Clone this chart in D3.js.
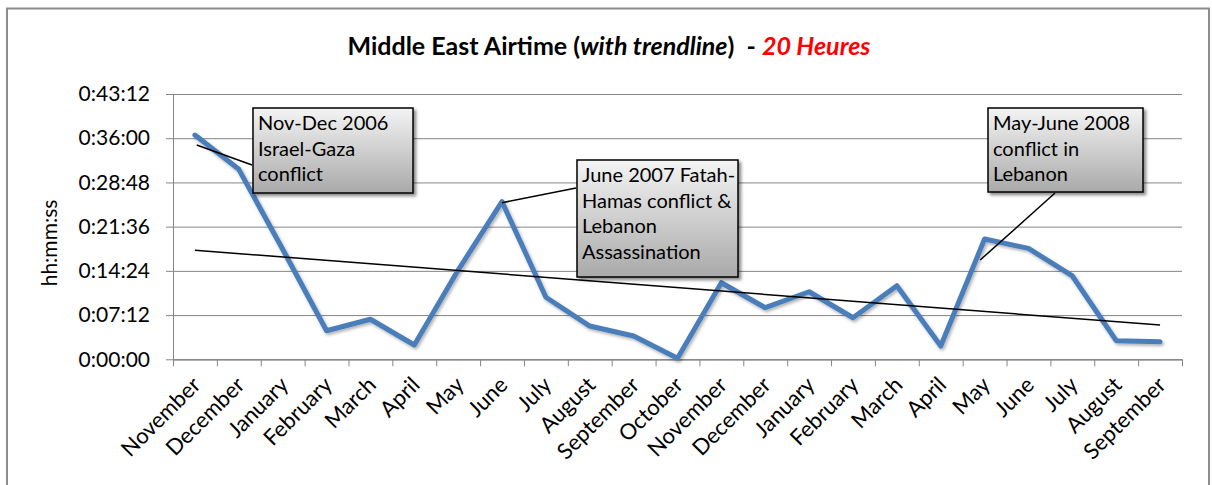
<!DOCTYPE html>
<html>
<head>
<meta charset="utf-8">
<script src="https://cdn.jsdelivr.net/npm/d3@7"></script>
<style>
  html, body { margin: 0; padding: 0; background: #fff; }
  svg { display: block; font-family: Lato, "Open Sans", sans-serif; }
</style>
</head>
<body>
<svg id="chart" width="1212" height="485"></svg>
<script>
// ---- data ----
const months = ["November","December","January","February","March","April","May","June",
  "July","August","September","October","November","December","January","February",
  "March","April","May","June","July","August","September"];
// airtime in seconds per month (Nov 2006 – Sep 2008)
const airtimeSeconds = [2191,1856,1075,279,391,140,872,1540,606,325,228,10,
  748,504,660,406,719,130,1175,1084,814,182,172];
const yTickSeconds = [0,432,864,1296,1728,2160,2592];
const titleParts = [
  {text: "Middle East Airtime (", italic: false, red: false},
  {text: "with trendline", italic: true, red: false},
  {text: ")  - ", italic: false, red: false},
  {text: "20 Heures", italic: true, red: true}
];
const yAxisTitle = "hh:mm:ss";
// annotations: anchor at (category index, seconds)
const noteLines = [
  ["Nov-Dec 2006","Israel-Gaza","conflict"],
  ["June 2007 Fatah-","Hamas conflict &","Lebanon","Assassination"],
  ["May-June 2008","conflict in","Lebanon"]
];
const noteAnchorIndex = [0.04, 7, 17.9];
const noteAnchorSeconds = [2094, 1530, 970];

// ---- layout ----
const W = 1212, H = 485;
const plot = {left: 173, right: 1182, top: 94, bottom: 359.3};
const noteBoxes = [
  {x: 253, y: 108, w: 160, h: 85, lx: 252, ly: 165},
  {x: 577, y: 160, w: 161, h: 117, lx: 576, ly: 188},
  {x: 988, y: 108, w: 155, h: 84, lx: 1055, ly: 193}
];
const FONT = 20;

const svg = d3.select("#chart");

// outer border
svg.append("rect").attr("x", 7).attr("y", 8.5).attr("width", 1202).attr("height", 490)
  .attr("fill", "#fff").attr("stroke", "#8c8c8c").attr("stroke-width", 2);

const defs = svg.append("defs");
const grad = defs.append("linearGradient").attr("id", "boxGrad")
  .attr("x1", 0).attr("y1", 0).attr("x2", 0).attr("y2", 1);
grad.append("stop").attr("offset", "0%").attr("stop-color", "#f4f4f4");
grad.append("stop").attr("offset", "100%").attr("stop-color", "#a9a9a9");
const sh = defs.append("filter").attr("id", "shadow").attr("x", "-10%").attr("y", "-10%")
  .attr("width", "130%").attr("height", "130%");
sh.append("feDropShadow").attr("dx", 2.5).attr("dy", 2.5).attr("stdDeviation", 1.8)
  .attr("flood-color", "#000").attr("flood-opacity", 0.45);
const lsh = defs.append("filter").attr("id", "lineShadow").attr("x", "-5%").attr("y", "-5%")
  .attr("width", "110%").attr("height", "115%");
lsh.append("feDropShadow").attr("dx", 1.5).attr("dy", 2).attr("stdDeviation", 1.5)
  .attr("flood-color", "#000").attr("flood-opacity", 0.3);

// scales
const x = d3.scaleBand().domain(d3.range(months.length)).range([plot.left, plot.right]).padding(0);
const xc = i => x.bandwidth() * (i + 0.5) + plot.left;
const y = d3.scaleLinear().domain([0, 2592]).range([plot.bottom, plot.top]);

const fmt = s => {
  const h = Math.floor(s / 3600), m = Math.floor((s % 3600) / 60), sec = s % 60;
  return h + ":" + String(m).padStart(2, "0") + ":" + String(sec).padStart(2, "0");
};

// gridlines + y axis
const yAxis = d3.axisLeft(y).tickValues(yTickSeconds).tickFormat(fmt)
  .tickSize(-(plot.right - plot.left)).tickPadding(23);
const gy = svg.append("g").attr("transform", `translate(${plot.left},0)`).call(yAxis);
gy.select(".domain").attr("stroke", "#868686");
gy.selectAll(".tick line").attr("stroke", "#868686").attr("x1", -7);
gy.selectAll(".tick text").attr("font-size", FONT + 1).attr("fill", "#000")
  .attr("font-family", "Lato, sans-serif");

// x axis line + ticks at band boundaries
const xAxis = d3.axisBottom(d3.scaleLinear().domain([0, months.length]).range([plot.left, plot.right]))
  .tickValues(d3.range(months.length + 1)).tickFormat("").tickSize(7).tickSizeOuter(0);
const gx = svg.append("g").attr("transform", `translate(0,${plot.bottom})`).call(xAxis);
gx.select(".domain").attr("stroke", "#868686");
gx.selectAll(".tick line").attr("stroke", "#868686");

// x labels
svg.append("g").selectAll("text").data(months).join("text")
  .attr("transform", (d, i) => `translate(${xc(i) + 7},${plot.bottom + 27}) rotate(-45)`)
  .attr("text-anchor", "end").attr("font-size", 22).attr("fill", "#000").text(d => d);

// y axis title
svg.append("text").attr("transform", `translate(57,243) rotate(-90)`)
  .attr("text-anchor", "middle").attr("font-size", FONT + 1).text(yAxisTitle);

// title
const t = svg.append("text").attr("x", 609).attr("y", 55).attr("text-anchor", "middle")
  .attr("font-size", 25).attr("font-weight", "bold");
titleParts.forEach(p => {
  t.append("tspan").text(p.text).attr("font-style", p.italic ? "italic" : "normal")
    .attr("fill", p.red ? "#ff0000" : "#000").attr("xml:space", "preserve").style("white-space", "pre");
});

// data line
const line = d3.line().x((d, i) => xc(i)).y(d => y(d));
svg.append("path").datum(airtimeSeconds).attr("d", line).attr("fill", "none")
  .attr("stroke", "#4a7ebb").attr("stroke-width", 5).attr("stroke-linejoin", "round")
  .attr("stroke-linecap", "round").attr("filter", "url(#lineShadow)");

// linear trendline (least squares)
const n = airtimeSeconds.length;
const mx = d3.mean(d3.range(n)), my = d3.mean(airtimeSeconds);
const slope = d3.sum(airtimeSeconds, (v, i) => (i - mx) * (v - my)) / d3.sum(d3.range(n), i => (i - mx) ** 2);
const icpt = my - slope * mx;
svg.append("line").attr("x1", xc(0)).attr("y1", y(icpt))
  .attr("x2", xc(n - 1)).attr("y2", y(icpt + slope * (n - 1)))
  .attr("stroke", "#000").attr("stroke-width", 1.5);

// annotations
noteBoxes.forEach((b, k) => {
  const ax = plot.left + x.bandwidth() * (noteAnchorIndex[k] + 0.5);
  const ay = y(noteAnchorSeconds[k]);
  svg.append("line").attr("x1", ax).attr("y1", ay).attr("x2", b.lx).attr("y2", b.ly)
    .attr("stroke", "#000").attr("stroke-width", 1.5);
  svg.append("rect").attr("x", b.x).attr("y", b.y).attr("width", b.w).attr("height", b.h)
    .attr("fill", "url(#boxGrad)").attr("stroke", "#000").attr("stroke-width", 1.5)
    .attr("filter", "url(#shadow)");
  const tx = svg.append("text").attr("font-size", FONT).attr("fill", "#000");
  noteLines[k].forEach((ln, j) => {
    tx.append("tspan").attr("x", b.x + 5).attr("y", b.y + 22 + j * 25.7).text(ln);
  });
});
</script>
</body>
</html>
